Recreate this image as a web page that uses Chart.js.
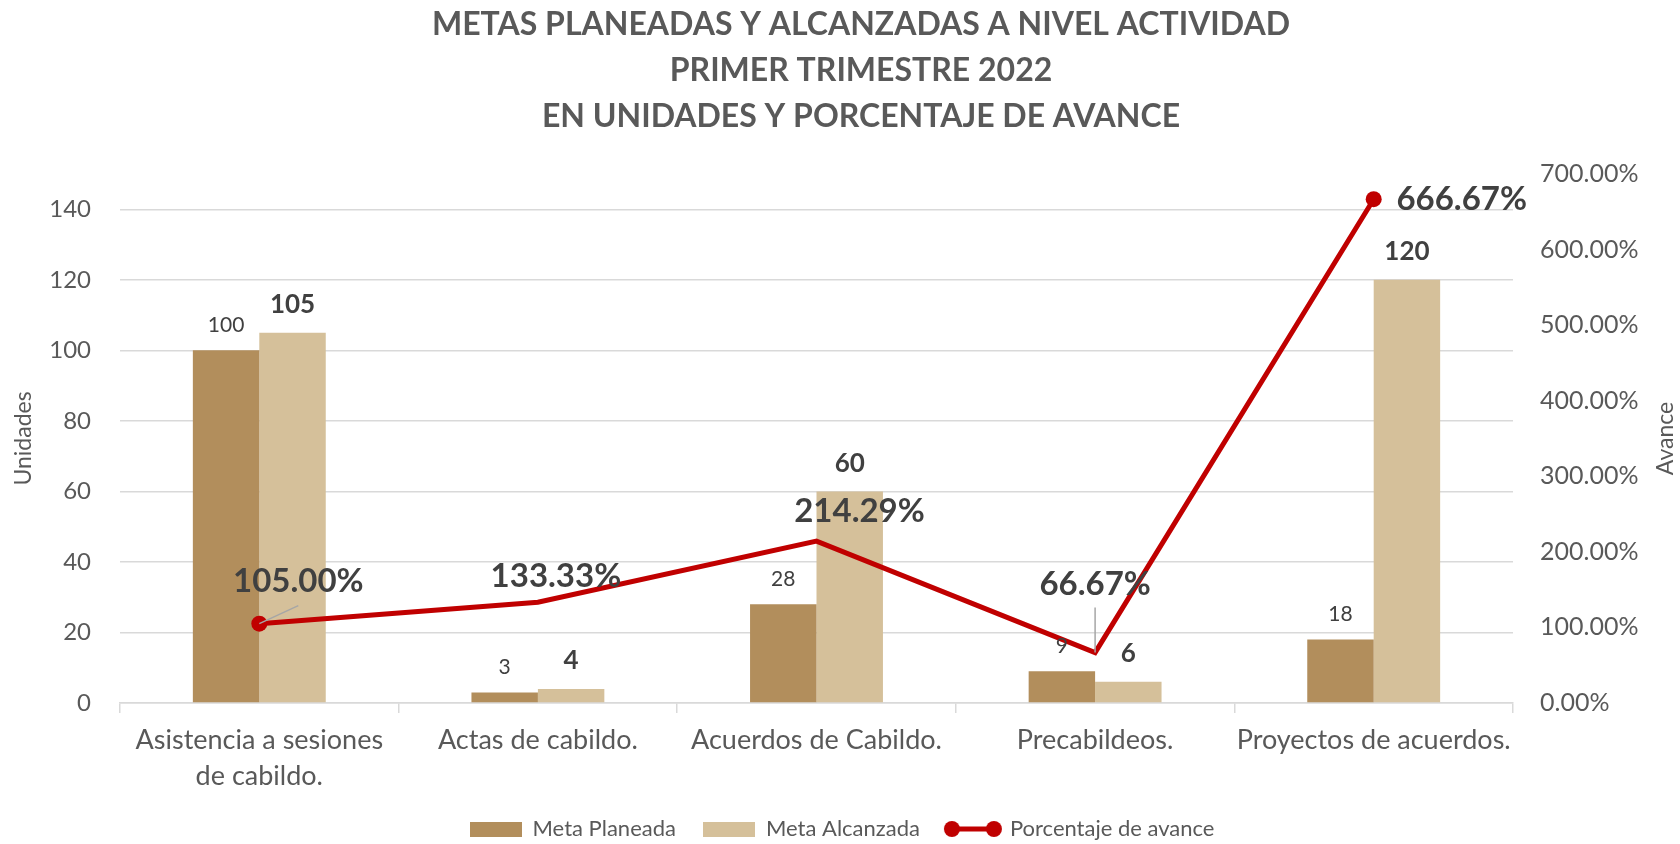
<!DOCTYPE html>
<html lang="es">
<head>
<meta charset="utf-8">
<title>Metas planeadas y alcanzadas</title>
<script src="https://cdn.jsdelivr.net/npm/chart.js@4.4.1/dist/chart.umd.min.js"></script>
<style>
  html, body { margin: 0; padding: 0; background: #fff; }
  #wrap { width: 1680px; height: 844px; }
</style>
</head>
<body>
<div id="wrap"><canvas id="chart"></canvas></div>
<script>
  // categorías y series
  const categories = [
    ["Asistencia a sesiones", "de cabildo."],
    "Actas de cabildo.",
    "Acuerdos de Cabildo.",
    "Precabildeos.",
    "Proyectos de acuerdos."
  ];
  const metaPlaneada = [100, 3, 28, 9, 18];
  const metaAlcanzada = [105, 4, 60, 6, 120];
  const porcentajeAvance = [105.00, 133.33, 214.29, 66.67, 666.67];

  const unidadesTicks = [0, 20, 40, 60, 80, 100, 120, 140];
  const avanceTicks = [0, 100, 200, 300, 400, 500, 600, 700];

  const titleLines = [
    "METAS PLANEADAS Y ALCANZADAS A NIVEL ACTIVIDAD",
    "PRIMER TRIMESTRE 2022",
    "EN UNIDADES Y PORCENTAJE DE AVANCE"
  ];

  const PLAN = "#B28E5C";
  const ALC = "#D5C09A";
  const RED = "#C00000";
  const GRAY = "#595959";
  const LABEL = "#404040";
  const FONT = "Lato, 'Open Sans', sans-serif";

  // where each percentage label sits relative to its point (dx, dy), plus optional leader line end
  const avanceLabelPos = [
    { dx: 39, dy: -42, lead: [39, -18] },
    { dx: 18, dy: -26 },
    { dx: 43, dy: -30 },
    { dx: 0, dy: -68, lead: [0, -45] },
    { dx: 88, dy: 0 }
  ];

  function swatch(color) {
    const c = document.createElement("canvas");
    c.width = 52; c.height = 15;
    const g = c.getContext("2d");
    g.fillStyle = color;
    g.fillRect(0, 0, 52, 15);
    return c;
  }
  function lineSwatch() {
    const c = document.createElement("canvas");
    c.width = 60; c.height = 18;
    const g = c.getContext("2d");
    g.strokeStyle = RED; g.lineWidth = 5;
    g.beginPath(); g.moveTo(9, 9); g.lineTo(51, 9); g.stroke();
    g.fillStyle = RED;
    [9, 51].forEach(x => { g.beginPath(); g.arc(x, 9, 8, 0, Math.PI * 2); g.fill(); });
    return c;
  }
  const legendIcons = [swatch(PLAN), swatch(ALC), lineSwatch()];

  const labelsPlugin = {
    id: "valueLabels",
    afterLayout(chart) {
      // title sits a little right of the canvas centre
      const tb = chart.titleBlock;
      if (tb) {
        const shift = 861 - (tb.left + tb.right) / 2;
        tb.left += shift; tb.right += shift;
      }
    },
    afterDatasetsDraw(chart) {
      const ctx = chart.ctx;
      ctx.save();
      ctx.textAlign = "center";
      ctx.textBaseline = "middle";
      ctx.fillStyle = LABEL;

      chart.getDatasetMeta(0).data.forEach((el, i) => {
        ctx.font = "21px " + FONT;
        ctx.fillText(metaPlaneada[i], el.x, el.y - 25);
      });
      chart.getDatasetMeta(1).data.forEach((el, i) => {
        ctx.font = "bold 26px " + FONT;
        ctx.fillText(metaAlcanzada[i], el.x, el.y - 28);
      });

      chart.getDatasetMeta(2).data.forEach((el, i) => {
        const p = avanceLabelPos[i];
        if (p.lead) {
          ctx.strokeStyle = "#A6A6A6";
          ctx.lineWidth = 1.5;
          ctx.beginPath();
          ctx.moveTo(el.x, el.y);
          ctx.lineTo(el.x + p.lead[0], el.y + p.lead[1]);
          ctx.stroke();
        }
        ctx.font = "bold 33px " + FONT;
        ctx.fillStyle = LABEL;
        ctx.fillText(porcentajeAvance[i].toFixed(2) + "%", el.x + p.dx, el.y + p.dy);
      });
      ctx.restore();
    },
    afterDraw(chart) {
      // right axis title reads bottom-to-top like the left one
      const ctx = chart.ctx;
      const a = chart.chartArea;
      ctx.save();
      ctx.translate(chart.width - 14, (a.top + a.bottom) / 2);
      ctx.rotate(-Math.PI / 2);
      ctx.font = "23px " + FONT;
      ctx.fillStyle = GRAY;
      ctx.textAlign = "center";
      ctx.textBaseline = "middle";
      ctx.fillText("Avance", 0, 0);
      ctx.restore();
    }
  };

  const ctx = document.getElementById("chart").getContext("2d");
  new Chart(ctx, {
    data: {
      labels: categories,
      datasets: [
        {
          type: "bar",
          label: "Meta Planeada",
          data: metaPlaneada,
          backgroundColor: PLAN,
          yAxisID: "y",
          order: 2,
          categoryPercentage: 0.477,
          barPercentage: 1
        },
        {
          type: "bar",
          label: "Meta Alcanzada",
          data: metaAlcanzada,
          backgroundColor: ALC,
          yAxisID: "y",
          order: 2,
          categoryPercentage: 0.477,
          barPercentage: 1
        },
        {
          type: "line",
          label: "Porcentaje de avance",
          data: porcentajeAvance,
          borderColor: RED,
          backgroundColor: RED,
          borderWidth: 5,
          pointRadius: [8, 0, 0, 0, 8],
          pointBackgroundColor: RED,
          pointBorderWidth: 0,
          tension: 0,
          yAxisID: "y1",
          order: 1
        }
      ]
    },
    options: {
      responsive: true,
      maintainAspectRatio: false,
      animation: false,
      layout: { padding: { left: 8, right: 4, top: 0, bottom: -6 } },
      plugins: {
        tooltip: { enabled: false },
        title: {
          display: true,
          text: titleLines,
          color: GRAY,
          font: { family: FONT, size: 32, weight: "bold", lineHeight: "46px" },
          padding: { top: 2, bottom: 34 }
        },
        legend: {
          position: "bottom",
          labels: {
            usePointStyle: true,
            pointStyleWidth: 52,
            padding: 27,
            color: GRAY,
            font: { family: FONT, size: 22 },
            generateLabels: chart => chart.data.datasets.map((ds, i) => ({
              text: ds.label,
              datasetIndex: i,
              pointStyle: legendIcons[i],
              fontColor: GRAY,
              hidden: false,
              lineWidth: 0
            }))
          }
        }
      },
      scales: {
        x: {
          offset: true,
          grid: {
            offset: true,
            drawOnChartArea: false,
            drawTicks: true,
            tickLength: 10,
            color: "#D9D9D9",
            lineWidth: 1.5
          },
          border: { color: "#D9D9D9", width: 1.5 },
          ticks: {
            color: GRAY,
            padding: 9,
            maxRotation: 0,
            autoSkip: false,
            font: { family: FONT, size: 27, lineHeight: 1.33 }
          },
          afterFit(scale) { scale.height = 88; }
        },
        y: {
          position: "left",
          min: 0,
          max: 150,
          afterBuildTicks(axis) { axis.ticks = unidadesTicks.map(v => ({ value: v })); },
          grid: { color: "#D9D9D9", lineWidth: 1.5, drawTicks: false },
          border: { display: false },
          ticks: {
            color: GRAY,
            padding: 29,
            font: { family: FONT, size: 24 }
          },
          title: {
            display: true,
            text: "Unidades",
            color: GRAY,
            font: { family: FONT, size: 23 },
            padding: { top: 2, bottom: 4 }
          },
          afterFit(scale) { scale.width = 112; }
        },
        y1: {
          position: "right",
          min: 0,
          max: 700,
          afterBuildTicks(axis) { axis.ticks = avanceTicks.map(v => ({ value: v })); },
          grid: { display: false, drawOnChartArea: false, drawTicks: false, tickLength: 0 },
          border: { display: false },
          ticks: {
            color: GRAY,
            padding: 27,
            font: { family: FONT, size: 25 },
            callback: v => v.toFixed(2) + "%"
          },
          afterFit(scale) { scale.width = 163; }
        }
      }
    },
    plugins: [labelsPlugin]
  });
</script>
</body>
</html>
